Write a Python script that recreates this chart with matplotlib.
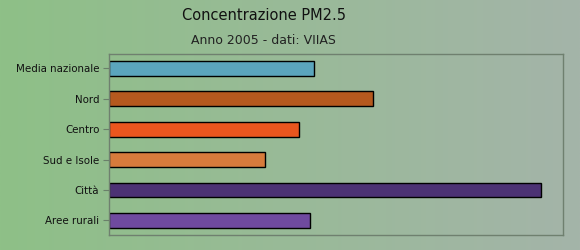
import numpy as np
import matplotlib
matplotlib.use("Agg")
import matplotlib.pyplot as plt
from matplotlib.colors import LinearSegmentedColormap

categories = ["Media nazionale", "Nord", "Centro", "Sud e Isole", "Città", "Aree rurali"]
values = [9.5, 12.2, 8.8, 7.2, 20.0, 9.3]
colors = ["#5ba5bd", "#b5591e", "#ea561e", "#d77b3c", "#4c3274", "#6f4a9f"]
title = "Concentrazione PM2.5"
subtitle = "Anno 2005 - dati: VIIAS"

fig = plt.figure(figsize=(5.8, 2.5), dpi=100)

# background gradient
bg = fig.add_axes([0, 0, 1, 1], zorder=-10)
grad = np.linspace(0, 1, 256).reshape(1, -1)
cmap = LinearSegmentedColormap.from_list("bg", ["#8ec087", "#a4b4a9"])
bg.imshow(grad, aspect="auto", cmap=cmap, extent=[0, 1, 0, 1])
bg.axis("off")

W, H = 580, 250
left, right, top, bottom = 109, 563, 54, 235
ax = fig.add_axes([left / W, 1 - bottom / H, (right - left) / W, (bottom - top) / H])
ax.patch.set_alpha(0)

y = np.arange(len(categories))
ax.barh(y, values, height=0.49, color=colors, edgecolor="black", linewidth=1)
ax.set_ylim(len(categories) - 0.52, -0.47)
ax.set_xlim(0, 21.0)
ax.set_yticks(y)
ax.set_yticklabels(categories, fontsize=7.4, color="#111111")
ax.tick_params(axis="y", length=4, color="#6a7f6a", pad=3)
ax.set_xticks([])
for s in ax.spines.values():
    s.set_color("#6f806f")
    s.set_linewidth(1)

fig.text(263.5 / W, 1 - 15 / H, title, ha="center", va="center", fontsize=10.5,
         color="#111111", fontweight="medium")
fig.text(263.5 / W, 1 - 40 / H, subtitle, ha="center", va="center", fontsize=9, color="#222222")

fig.savefig("out.png", dpi=100)
